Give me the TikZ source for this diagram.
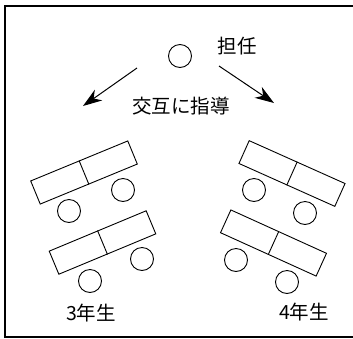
\documentclass[tikz,border=0pt]{standalone}
\usepackage{fontspec}
\newfontfamily\jpfont{Noto Sans CJK JP}
\usetikzlibrary{arrows.meta}
\tikzset{
  desk/.style={draw, line width=0.9pt, minimum width=105pt, minimum height=25pt, inner sep=0pt},
  seat/.style={draw, line width=0.9pt, circle, minimum size=23pt, inner sep=0pt},
  lbl/.style={font=\jpfont\fontsize{19.5}{19.5}\selectfont, inner sep=0pt},
  arr/.style={line width=1pt, -{Stealth[length=19pt,width=13pt,inset=6pt]}}
}
\begin{document}
\begin{tikzpicture}[x=1pt,y=-1pt]
\useasboundingbox (0,0) rectangle (353,338);
\begin{scope}
\clip (0,0) rectangle (353,338);
\draw[line width=1.1pt] (5,6) rectangle (360,337);
\end{scope}
% teacher
\node[seat] (t) at (180,56) {};
\node[lbl] (tl) at (237,46.5) {担任};
\coordinate (la0) at (137,68);
\coordinate (la1) at (83,106);
\coordinate (ra0) at (219,66);
\coordinate (ra1) at (274,103);
\draw[arr] (la0) -- (la1);
\draw[arr] (ra0) -- (ra1);
\node[lbl] (ins) at (181,106.5) {交互に指導};
% left group (3rd grade)
\node[desk, rotate=22.4] (d1) at (84,172.5) {};
\draw[line width=0.9pt] (d1.north) -- (d1.south);
\node[seat] (s1a) at (69,211) {};
\node[seat] (s1b) at (123,190) {};
\node[desk, rotate=22.6] (d2) at (102.5,242.5) {};
\draw[line width=0.9pt] (d2.north) -- (d2.south);
\node[seat] (s2a) at (90,281) {};
\node[seat] (s2b) at (142,259) {};
\node[lbl] (g3) at (91,313.5) {3年生};
% right group (4th grade)
\node[desk, rotate=-24.1] (d3) at (292,173.5) {};
\draw[line width=0.9pt] (d3.north) -- (d3.south);
\node[seat] (s3a) at (254,190) {};
\node[seat] (s3b) at (305,213) {};
\node[desk, rotate=-24.4] (d4) at (273.5,243) {};
\draw[line width=0.9pt] (d4.north) -- (d4.south);
\node[seat] (s4a) at (236,260) {};
\node[seat] (s4b) at (287,282) {};
\node[lbl] (g4) at (304,312.5) {4年生};
\end{tikzpicture}
\end{document}
